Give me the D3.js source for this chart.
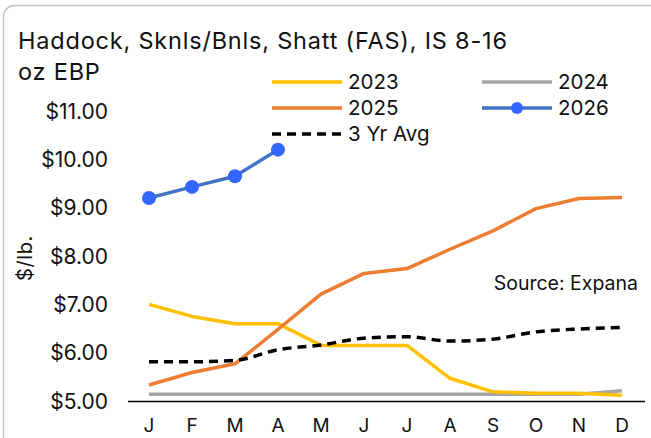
<!DOCTYPE html>
<html>
<head>
<meta charset="UTF-8">
<title>Haddock prices</title>
<script src="https://cdn.jsdelivr.net/npm/d3@7"></script>
<style>
  body { margin: 0; background: #fff; font-family: Inter, "Noto Sans", sans-serif; }
</style>
</head>
<body>
<script>
var months = ["J", "F", "M", "A", "M", "J", "J", "A", "S", "O", "N", "D"];
var yTicks = [5, 6, 7, 8, 9, 10, 11];

var s2023 = [7.00, 6.75, 6.60, 6.60, 6.15, 6.15, 6.15, 5.47, 5.19, 5.16, 5.16, 5.12];
var s2024 = [5.14, 5.14, 5.14, 5.14, 5.14, 5.14, 5.14, 5.14, 5.14, 5.14, 5.14, 5.21];
var s2025 = [5.33, 5.59, 5.77, 6.48, 7.21, 7.64, 7.74, 8.14, 8.52, 8.98, 9.19, 9.21];
var s2026 = [9.20, 9.43, 9.65, 10.20];
var avg3  = [5.81, 5.81, 5.84, 6.06, 6.16, 6.30, 6.33, 6.24, 6.28, 6.43, 6.49, 6.52];

var W = 651, H = 438;
var svg = d3.select("body").append("svg")
    .attr("width", W)
    .attr("height", H);

// frame
svg.append("rect")
    .attr("x", 3.5).attr("y", 5.5)
    .attr("width", W + 20).attr("height", H + 20)
    .attr("rx", 11)
    .attr("fill", "#fff")
    .attr("stroke", "#bfbfbf")
    .attr("stroke-width", 1.3);

// title
svg.append("text").attr("x", 18).attr("y", 49)
    .attr("font-size", 23.5).attr("letter-spacing", 0.8).attr("fill", "#111")
    .text("Haddock, Sknls/Bnls, Shatt (FAS), IS 8-16");
svg.append("text").attr("x", 18).attr("y", 80)
    .attr("font-size", 23.5).attr("letter-spacing", 0.8).attr("fill", "#111")
    .text("oz EBP");

var x = d3.scalePoint().domain(d3.range(12)).range([149, 622]);
var y = d3.scaleLinear().domain([5, 11]).range([401, 111]);

// y tick labels
svg.append("g").selectAll("text")
    .data(yTicks).enter().append("text")
    .attr("x", 108)
    .attr("y", function(d) { return y(d); })
    .attr("dy", "0.36em")
    .attr("text-anchor", "end")
    .attr("font-size", 21).attr("fill", "#111")
    .text(function(d) { return "$" + d.toFixed(2); });

svg.append("text")
    .attr("transform", "translate(32,258) rotate(-90)")
    .attr("text-anchor", "middle")
    .attr("font-size", 20).attr("letter-spacing", 0.6).attr("fill", "#111")
    .text("$/lb.");

// x axis
svg.append("line")
    .attr("x1", 128).attr("x2", 645)
    .attr("y1", y(5) + 0.5).attr("y2", y(5) + 0.5)
    .attr("stroke", "#000").attr("stroke-width", 1.5);

svg.append("g").selectAll("text")
    .data(months).enter().append("text")
    .attr("x", function(d, i) { return x(i); })
    .attr("y", 432)
    .attr("text-anchor", "middle")
    .attr("font-size", 19).attr("fill", "#111")
    .text(function(d) { return d; });

var line = d3.line()
    .x(function(d, i) { return x(i); })
    .y(function(d) { return y(d); });
var smooth = d3.line()
    .x(function(d, i) { return x(i); })
    .y(function(d) { return y(d); })
    .curve(d3.curveMonotoneX);

function drawLine(data, color, gen, dash) {
    svg.append("path")
        .datum(data)
        .attr("d", gen)
        .attr("fill", "none")
        .attr("stroke", color)
        .attr("stroke-width", 3.5)
        .attr("stroke-linejoin", "round")
        .attr("stroke-dasharray", dash || null);
}

drawLine(s2024, "#a5a5a5", line);
drawLine(s2023, "#ffc000", line);
drawLine(s2025, "#ed7d31", line);
drawLine(avg3, "#000", smooth, "9,6");
drawLine(s2026, "#4472c4", line);

svg.append("g").selectAll("circle")
    .data(s2026).enter().append("circle")
    .attr("cx", function(d, i) { return x(i); })
    .attr("cy", function(d) { return y(d); })
    .attr("r", 7)
    .attr("fill", "#3366ff");

// legend
var legend = [
    {name: "2023", color: "#ffc000", lx: 272, ly: 82},
    {name: "2024", color: "#a5a5a5", lx: 482, ly: 82},
    {name: "2025", color: "#ed7d31", lx: 272, ly: 108},
    {name: "2026", color: "#4472c4", lx: 482, ly: 108, marker: true},
    {name: "3 Yr Avg", color: "#000", lx: 272, ly: 134, dash: "9,6"}
];
var lg = svg.append("g").selectAll("g").data(legend).enter().append("g");
lg.append("line")
    .attr("x1", function(d) { return d.lx; })
    .attr("x2", function(d) { return d.lx + 70; })
    .attr("y1", function(d) { return d.ly; })
    .attr("y2", function(d) { return d.ly; })
    .attr("stroke", function(d) { return d.color; })
    .attr("stroke-width", 3.5)
    .attr("stroke-dasharray", function(d) { return d.dash || null; });
lg.filter(function(d) { return d.marker; }).append("circle")
    .attr("cx", function(d) { return d.lx + 35; })
    .attr("cy", function(d) { return d.ly; })
    .attr("r", 6)
    .attr("fill", "#3366ff");
lg.append("text")
    .attr("x", function(d) { return d.lx + 76; })
    .attr("y", function(d) { return d.ly; })
    .attr("dy", "0.36em")
    .attr("font-size", 20.5).attr("fill", "#111")
    .text(function(d) { return d.name; });

svg.append("text")
    .attr("x", 638).attr("y", 283)
    .attr("dy", "0.36em")
    .attr("text-anchor", "end")
    .attr("font-size", 19.5).attr("fill", "#111")
    .text("Source: Expana");
</script>
</body>
</html>
